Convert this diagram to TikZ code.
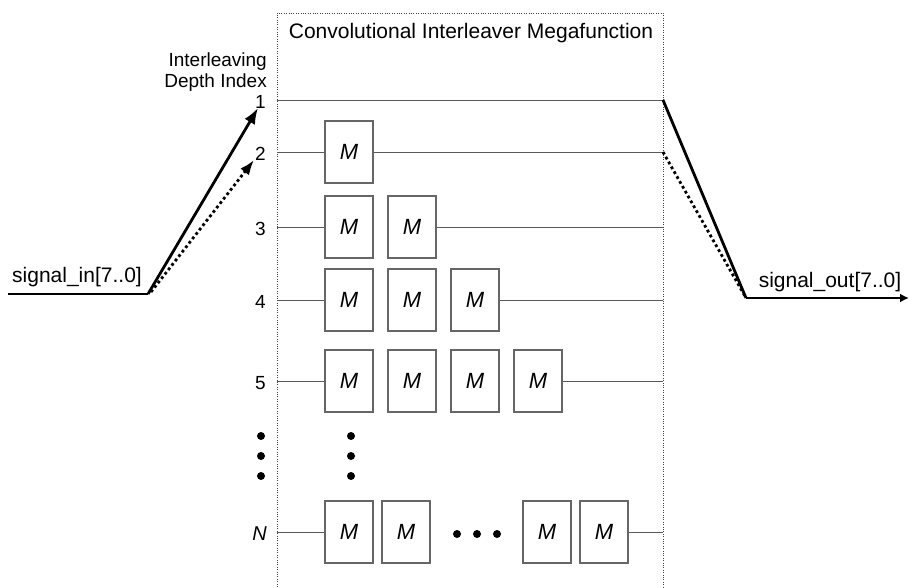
\documentclass[tikz,border=0pt]{standalone}
\usepackage{fontspec}
\setmainfont{Liberation Sans}
\usetikzlibrary{arrows.meta,positioning}

\tikzset{
  mbox/.style={draw=black!60, line width=1.1pt, minimum width=48pt,
    minimum height=62pt, inner sep=0pt, font=\fontsize{22}{22}\selectfont\itshape},
  rowline/.style={draw=black!65, line width=1pt},
  idx/.style={anchor=east, inner sep=0pt, font=\fontsize{19}{19}\selectfont},
  bus/.style={line width=2.8pt},
  busdot/.style={line width=2.8pt, dash pattern=on 2.8pt off 2.8pt},
  frame/.style={draw=black!75, line width=0.9pt, dash pattern=on 1pt off 1.4pt},
  bigtip/.style={-{Latex[length=16pt,width=12pt]}},
  dot/.style={fill=black}
}

\begin{document}
\begin{tikzpicture}[x=1pt, y=-1pt]
    \useasboundingbox (0,0) rectangle (910,587);

    % Megafunction frame (open at the bottom)
    \draw[frame] (277,587) |- (663,13) -- (663,587);
    \node[font=\fontsize{21}{21}\selectfont] (title) at (471,33) {Convolutional Interleaver Megafunction};

    % Depth index labels
    \node[anchor=east, inner sep=0pt, align=right, font=\fontsize{19}{21}\selectfont] (depth) at (267,72) {Interleaving\\Depth Index};
    \node[idx] (i1) at (266,102) {1};
    \node[idx] (i2) at (266,154) {2};
    \node[idx] (i3) at (266,229) {3};
    \node[idx] (i4) at (266,302) {4};
    \node[idx] (i5) at (266,383) {5};
    \node[idx, font=\fontsize{20}{20}\selectfont\itshape] (iN) at (267,534) {N};

    % Row end points on the frame
    \foreach \r/\y in {1/100,2/152,3/227,4/300,5/381,N/532} {
        \coordinate (l\r) at (277,\y);
        \coordinate (r\r) at (663,\y);
    }

    % Row 1: straight through
    \draw[rowline] (l1) -- (r1);

    % Rows 2..5: delay boxes
    \foreach \r/\y/\n in {2/152/1,3/227/2,4/300/3,5/381/4} {
        \foreach \c in {1,...,\n}
            \node[mbox] (m\r\c) at ({349+63*(\c-1)},\y) {M};
        \draw[rowline] (l\r) -- (m\r1) (m\r\n) -- (r\r);
    }

    % Row N
    \node[mbox] (mN1) at (349,532) {M};
    \node[mbox] (mN2) at (406,532) {M};
    \node[mbox] (mN3) at (547,532) {M};
    \node[mbox] (mN4) at (604,532) {M};
    \draw[rowline] (lN) -- (mN1) (mN4) -- (rN);

    % Ellipsis dots
    \foreach \y in {436,456,476} {
        \fill[dot] (261,\y) circle (4);
        \fill[dot] (351,\y) circle (4);
    }
    \foreach \x in {457,477,497}
        \fill[dot] (\x,534) circle (4);

    % Input bus
    \coordinate (inA) at (8,294);
    \coordinate (inB) at (148,294);
    \coordinate (tip1) at (258,108);
    \coordinate (tip2) at (254,160);
    \node[font=\fontsize{21}{21}\selectfont] (sigin) at (77,277) {signal\_in[7..0]};
    \draw[bus] (inA) -- (inB);
    \draw[bus, bigtip] (inB) -- (tip1);
    \draw[busdot, -{Latex[length=15pt,width=11pt]}] (151,292) -- (tip2);

    % Output bus
    \coordinate (outA) at (746,298);
    \coordinate (outB) at (909,298);
    \node[font=\fontsize{21}{21}\selectfont] (sigout) at (830,282) {signal\_out[7..0]};
    \draw[bus] (r1) -- (outA);
    \draw[busdot] (r2) -- (outA);
    \draw[bus, -{Latex[length=9pt,width=9pt]}] (outA) -- (outB);
\end{tikzpicture}
\end{document}
